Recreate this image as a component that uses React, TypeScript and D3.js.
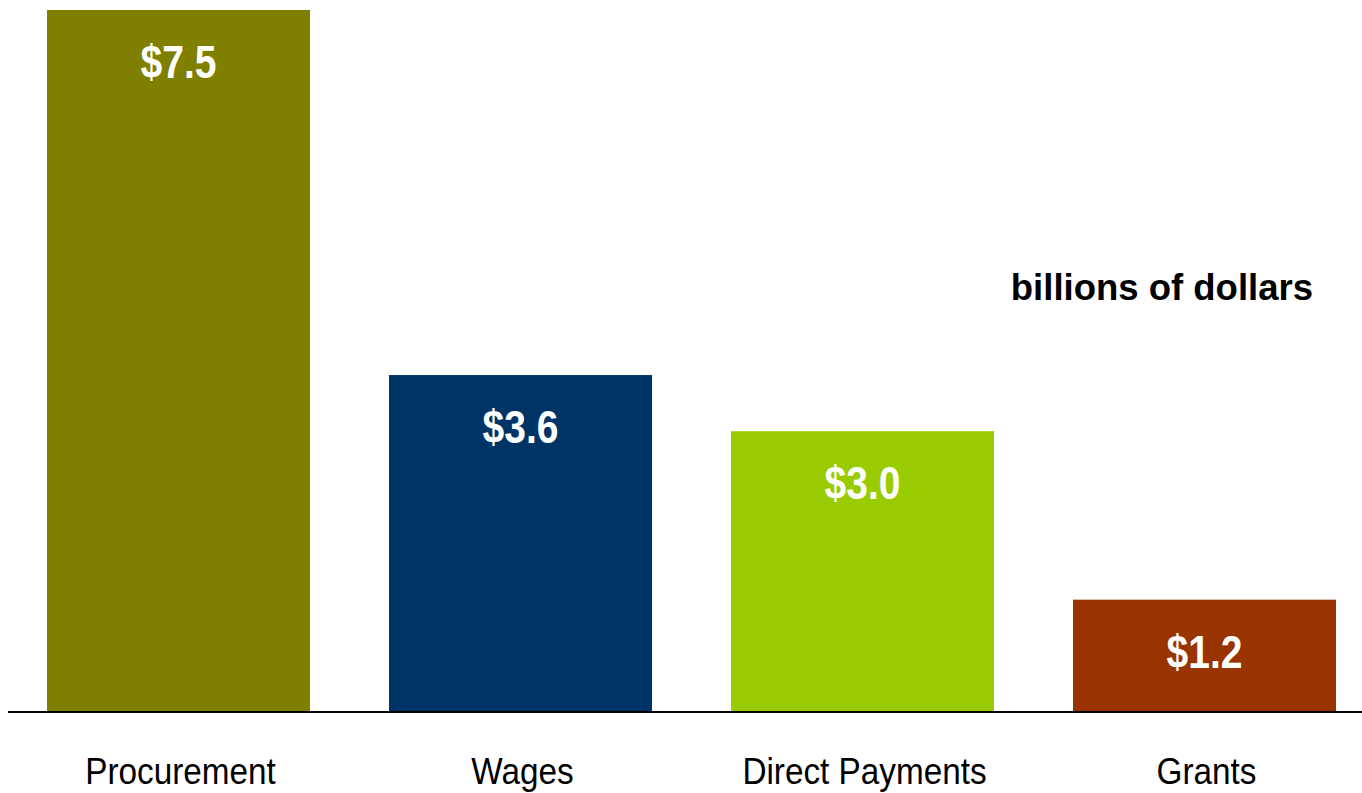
import React from "react";
import * as d3 from "d3";

const categories = ["Procurement", "Wages", "Direct Payments", "Grants"];
const values = [7.5, 3.6, 3.0, 1.2];
const valueLabels = ["$7.5", "$3.6", "$3.0", "$1.2"];
const colors = ["#808000", "#003366", "#99CC00", "#993300"];
const unitLabel = "billions of dollars";

const W = 1362;
const H = 793;
const baseY = 712;

export default function App() {
  const x = d3
    .scaleBand<string>()
    .domain(categories)
    .range([7.5, 1375.5])
    .paddingInner(0.231)
    .paddingOuter(0.1155);
  const y = d3.scaleLinear().domain([0, 7.5]).range([baseY, 10]);
  const font = "'Liberation Sans', Arial, sans-serif";
  return (
    <svg
      width={W}
      height={H}
      style={{ position: "absolute", left: 0, top: 0, background: "#fff" }}
    >
      {categories.map((c, i) => {
        const cx = (x(c) as number) + x.bandwidth() / 2;
        return (
          <g key={c}>
            <rect
              x={x(c)}
              y={y(values[i])}
              width={x.bandwidth()}
              height={baseY - y(values[i])}
              fill={colors[i]}
            />
            <text
              transform={`translate(${cx},${y(values[i]) + 68}) scale(0.83,1)`}
              textAnchor="middle"
              fill="#fff"
              fontFamily={font}
              fontWeight="bold"
              fontSize={47}
            >
              {valueLabels[i]}
            </text>
            <text
              transform={`translate(${cx + 2},784) scale(0.9,1)`}
              textAnchor="middle"
              fill="#000"
              fontFamily={font}
              fontSize={37}
            >
              {c}
            </text>
          </g>
        );
      })}
      <line x1={8} x2={W} y1={baseY} y2={baseY} stroke="#000" strokeWidth={2} />
      <text
        x={1313}
        y={300}
        textAnchor="end"
        fill="#000"
        fontFamily={font}
        fontWeight="bold"
        fontSize={36.5}
      >
        {unitLabel}
      </text>
    </svg>
  );
}
